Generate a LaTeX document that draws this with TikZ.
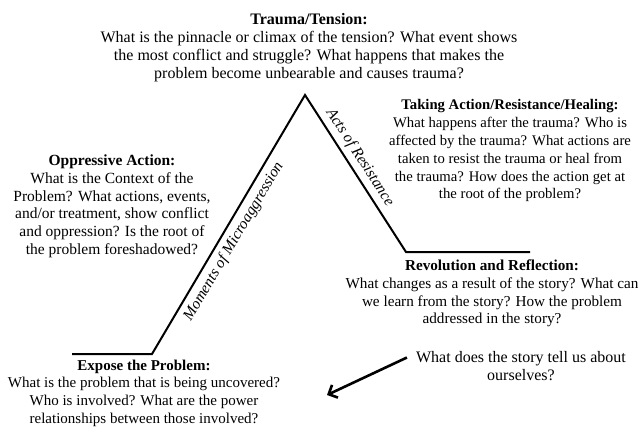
\documentclass[tikz,border=0pt]{standalone}
\usepackage{fontspec}
\setmainfont{Liberation Serif}
\usetikzlibrary{arrows.meta,calc}
\begin{document}
\begin{tikzpicture}[x=1pt,y=-1pt,
 txt/.style={align=center, font=\fontsize{#1}{17.8}\selectfont, inner sep=0pt, anchor=north},
 txt/.default=15,
 lbl/.style={font=\fontsize{15.5}{18}\selectfont\itshape, inner sep=0pt},
 arc/.style={line width=2pt, line join=miter},
 pointer/.style={line width=2.6pt, -{Straight Barb[length=7pt,width=14pt]}}]
\useasboundingbox (0,0) rectangle (644,426);
% plot line
\coordinate (s) at (72,354);
\coordinate (c1) at (152,354);
\coordinate (peak) at (305,95);
\coordinate (c2) at (406,252);
\coordinate (e) at (530,252);
\draw[arc] (s) -- (c1) -- (peak) -- (c2) -- (e);
\path (c1) -- node[pos=0.46, sloped, below=6pt, lbl] (mm) {Moments of Microaggression} (peak);
\path (peak) -- node[pos=0.44, sloped, above=5pt, lbl] (ar) {Acts of Resistance} (c2);
% texts
\node[txt=16] (trauma) at (309,13.5) {\textbf{Trauma/Tension:}\\What is the pinnacle or climax of the tension? What event shows\\the most conflict and struggle? What happens that makes the\\problem become unbearable and causes trauma?};
\node[txt=15.5] (opp) at (112,154.5) {\textbf{Oppressive Action:}\\What is the Context of the\\Problem? What actions, events,\\and/or treatment, show conflict\\and oppression? Is the root of\\the problem foreshadowed?};
\node[txt=14.7] (take) at (510,99.5) {\textbf{Taking Action/Resistance/Healing:}\\What happens after the trauma? Who is\\affected by the trauma? What actions are\\taken to resist the trauma or heal from\\the trauma? How does the action get at\\the root of the problem?};
\node[txt=15.2] (rev) at (492,259.5) {\textbf{Revolution and Reflection:}\\What changes as a result of the story? What can\\we learn from the story? How the problem\\addressed in the story?};
\node[txt=16] (self) at (521,351.5) {What does the story tell us about\\ourselves?};
\node[txt=15] (expose) at (144,359.5) {\textbf{Expose the Problem:}\\What is the problem that is being uncovered?\\Who is involved? What are the power\\relationships between those involved?};
% pointer
\coordinate (ptail) at ($(self.north west)+(-9,6)$);
\coordinate (phead) at (327,395);
\draw[pointer] (ptail) -- (phead);
\end{tikzpicture}
\end{document}
